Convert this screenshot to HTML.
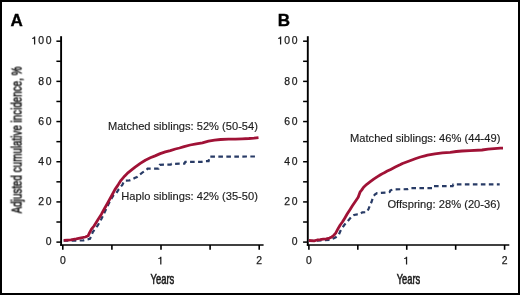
<!DOCTYPE html>
<html><head><meta charset="utf-8"><style>
html,body{margin:0;padding:0;background:#fff;}
body{width:520px;height:295px;overflow:hidden;}
svg{display:block;will-change:transform;}
text{font-family:"Liberation Sans",sans-serif;fill:#1c1c1c;}
.tk{font-size:10.4px;stroke:#1c1c1c;stroke-width:0.25px;}
.tky{font-size:10.4px;letter-spacing:1.9px;stroke:#1c1c1c;stroke-width:0.25px;}
.an{font-size:10.9px;stroke:#1c1c1c;stroke-width:0.15px;}
.cd{font-size:14.4px;stroke:#1c1c1c;stroke-width:0.6px;}
.pl{font-size:17px;font-weight:bold;fill:#000;stroke:#000;stroke-width:0.35px;}
</style></head><body>
<svg width="520" height="295" viewBox="0 0 520 295">
<rect x="1" y="1" width="518" height="293" fill="#fff" stroke="#000" stroke-width="2"/>
<line x1="61.1" y1="36.2" x2="61.1" y2="245.8" stroke="#000" stroke-width="1.9"/>
<line x1="60.15" y1="245" x2="263.6" y2="245" stroke="#000" stroke-width="1.6"/>
<line x1="56.4" y1="242.10" x2="61.1" y2="242.10" stroke="#000" stroke-width="1.5"/>
<line x1="56.4" y1="222.01" x2="61.1" y2="222.01" stroke="#000" stroke-width="1.5"/>
<line x1="56.4" y1="201.92" x2="61.1" y2="201.92" stroke="#000" stroke-width="1.5"/>
<line x1="56.4" y1="181.83" x2="61.1" y2="181.83" stroke="#000" stroke-width="1.5"/>
<line x1="56.4" y1="161.74" x2="61.1" y2="161.74" stroke="#000" stroke-width="1.5"/>
<line x1="56.4" y1="141.65" x2="61.1" y2="141.65" stroke="#000" stroke-width="1.5"/>
<line x1="56.4" y1="121.56" x2="61.1" y2="121.56" stroke="#000" stroke-width="1.5"/>
<line x1="56.4" y1="101.47" x2="61.1" y2="101.47" stroke="#000" stroke-width="1.5"/>
<line x1="56.4" y1="81.38" x2="61.1" y2="81.38" stroke="#000" stroke-width="1.5"/>
<line x1="56.4" y1="61.29" x2="61.1" y2="61.29" stroke="#000" stroke-width="1.5"/>
<line x1="56.4" y1="41.20" x2="61.1" y2="41.20" stroke="#000" stroke-width="1.5"/>
<line x1="62.80" y1="245" x2="62.80" y2="249.8" stroke="#000" stroke-width="1.6"/>
<line x1="111.90" y1="245" x2="111.90" y2="249.8" stroke="#000" stroke-width="1.6"/>
<line x1="161.00" y1="245" x2="161.00" y2="249.8" stroke="#000" stroke-width="1.6"/>
<line x1="210.10" y1="245" x2="210.10" y2="249.8" stroke="#000" stroke-width="1.6"/>
<line x1="259.20" y1="245" x2="259.20" y2="249.8" stroke="#000" stroke-width="1.6"/>
<text x="53.50" y="245.30" text-anchor="end" class="tky">0</text>
<text x="53.50" y="205.12" text-anchor="end" class="tky">20</text>
<text x="53.50" y="164.94" text-anchor="end" class="tky">40</text>
<text x="53.50" y="124.76" text-anchor="end" class="tky">60</text>
<text x="53.50" y="84.58" text-anchor="end" class="tky">80</text>
<text x="53.50" y="44.40" text-anchor="end" class="tky">00</text>
<path d="M35.23,36.60 L35.23,44.60 L33.98,44.60 L33.98,38.90 C33.38,38.60 32.60,38.90 32.10,39.00 L32.10,38.00 C33.30,37.90 33.77,37.20 34.08,36.60 Z" fill="#1c1c1c"/>
<text x="62.80" y="264.4" text-anchor="middle" class="tk">0</text>
<path d="M161.43,256.70 L161.43,264.60 L160.18,264.60 L160.18,259.00 C159.58,258.70 158.80,259.00 158.30,259.10 L158.30,258.10 C159.50,258.00 159.98,257.30 160.28,256.70 Z" fill="#1c1c1c"/>
<text x="259.20" y="264.4" text-anchor="middle" class="tk">2</text>
<line x1="307.8" y1="36.2" x2="307.8" y2="245.8" stroke="#000" stroke-width="1.9"/>
<line x1="306.85" y1="245" x2="509.3" y2="245" stroke="#000" stroke-width="1.6"/>
<line x1="303.1" y1="242.10" x2="307.8" y2="242.10" stroke="#000" stroke-width="1.5"/>
<line x1="303.1" y1="222.01" x2="307.8" y2="222.01" stroke="#000" stroke-width="1.5"/>
<line x1="303.1" y1="201.92" x2="307.8" y2="201.92" stroke="#000" stroke-width="1.5"/>
<line x1="303.1" y1="181.83" x2="307.8" y2="181.83" stroke="#000" stroke-width="1.5"/>
<line x1="303.1" y1="161.74" x2="307.8" y2="161.74" stroke="#000" stroke-width="1.5"/>
<line x1="303.1" y1="141.65" x2="307.8" y2="141.65" stroke="#000" stroke-width="1.5"/>
<line x1="303.1" y1="121.56" x2="307.8" y2="121.56" stroke="#000" stroke-width="1.5"/>
<line x1="303.1" y1="101.47" x2="307.8" y2="101.47" stroke="#000" stroke-width="1.5"/>
<line x1="303.1" y1="81.38" x2="307.8" y2="81.38" stroke="#000" stroke-width="1.5"/>
<line x1="303.1" y1="61.29" x2="307.8" y2="61.29" stroke="#000" stroke-width="1.5"/>
<line x1="303.1" y1="41.20" x2="307.8" y2="41.20" stroke="#000" stroke-width="1.5"/>
<line x1="308.90" y1="245" x2="308.90" y2="249.8" stroke="#000" stroke-width="1.6"/>
<line x1="357.82" y1="245" x2="357.82" y2="249.8" stroke="#000" stroke-width="1.6"/>
<line x1="406.75" y1="245" x2="406.75" y2="249.8" stroke="#000" stroke-width="1.6"/>
<line x1="455.67" y1="245" x2="455.67" y2="249.8" stroke="#000" stroke-width="1.6"/>
<line x1="504.60" y1="245" x2="504.60" y2="249.8" stroke="#000" stroke-width="1.6"/>
<text x="299.50" y="245.30" text-anchor="end" class="tky">0</text>
<text x="299.50" y="205.12" text-anchor="end" class="tky">20</text>
<text x="299.50" y="164.94" text-anchor="end" class="tky">40</text>
<text x="299.50" y="124.76" text-anchor="end" class="tky">60</text>
<text x="299.50" y="84.58" text-anchor="end" class="tky">80</text>
<text x="299.50" y="44.40" text-anchor="end" class="tky">00</text>
<path d="M281.23,36.60 L281.23,44.60 L279.98,44.60 L279.98,38.90 C279.38,38.60 278.60,38.90 278.10,39.00 L278.10,38.00 C279.30,37.90 279.78,37.20 280.08,36.60 Z" fill="#1c1c1c"/>
<text x="308.90" y="264.4" text-anchor="middle" class="tk">0</text>
<path d="M407.18,256.70 L407.18,264.60 L405.93,264.60 L405.93,259.00 C405.32,258.70 404.55,259.00 404.05,259.10 L404.05,258.10 C405.25,258.00 405.73,257.30 406.03,256.70 Z" fill="#1c1c1c"/>
<text x="504.60" y="264.4" text-anchor="middle" class="tk">2</text>
<polyline points="63.7,240.7 72.7,240.6 79.9,240.5 83.5,240.3 87.2,239.4 90.0,238.9 91.3,235.5 92.8,232.0 95.0,229.0 97.8,225.3 100.5,220.8 103.3,215.0 105.8,209.8 108.3,204.6 110.8,199.6 113.7,195.0 116.4,193.0 118.7,189.3 120.6,187.0 122.5,184.6 123.6,182.0 124.6,180.7 129.5,180.4 131.5,179.7 134.6,178.1 137.0,177.0 139.7,174.6 142.3,172.6 146.5,170.0 147.6,168.6 158.5,168.6 159.8,164.8 170.8,164.6 171.6,163.9 184.4,163.6 185.3,161.9 201.5,161.9 203.5,161.2 208.6,161.1 209.6,156.6 257.2,156.5" fill="none" stroke="#283b66" stroke-width="2.2" stroke-dasharray="4.6 3.4"/>
<polyline points="63.7,240.4 70.8,239.9 76.3,238.9 81.1,237.9 85.4,237.0 88.2,235.7 89.6,232.7 91.5,229.2 94.0,226.0 95.9,223.0 97.9,219.8 101.3,214.4 103.7,210.0 106.4,205.2 108.1,202.1 111.5,196.0 114.9,189.6 118.3,184.6 121.0,180.3 124.8,175.9 128.2,172.6 131.6,169.9 135.1,167.2 140.3,163.4 145.3,160.2 150.3,157.8 155.1,155.9 160.2,153.6 165.3,151.9 170.3,150.6 175.4,149.0 179.5,148.0 184.1,146.6 190.2,145.0 196.3,143.8 202.4,142.8 208.5,141.2 214.6,140.2 220.5,139.5 228.6,139.2 235.3,139.1 242.1,138.8 248.9,138.5 254.0,138.1 258.5,137.6" fill="none" stroke="#a01236" stroke-width="2.8" stroke-linejoin="round"/>
<polyline points="308.9,241.0 316.0,240.7 330.0,240.0 333.3,238.4 335.8,237.2 338.7,235.0 340.9,229.9 344.3,225.0 348.3,220.5 351.9,216.3 354.0,215.0 357.4,214.3 360.2,214.0 362.3,212.4 366.6,212.2 368.4,209.3 369.6,206.2 371.5,202.0 373.3,196.5 375.1,194.4 377.0,193.2 386.9,192.6 389.6,192.0 390.4,190.4 394.0,189.3 407.5,189.2 409.8,188.2 432.3,188.2 433.0,186.2 452.6,186.2 453.4,184.4 499.7,184.4" fill="none" stroke="#283b66" stroke-width="2.2" stroke-dasharray="4.6 3.4"/>
<polyline points="308.9,240.5 314.1,240.8 317.2,240.0 320.2,239.6 323.3,239.1 326.3,238.9 329.5,238.1 331.8,236.9 333.6,235.5 335.7,233.1 337.9,228.9 340.2,225.0 342.4,222.0 344.6,218.4 347.3,213.8 350.1,209.5 352.4,205.8 354.8,202.3 358.2,197.2 360.0,192.2 361.8,189.9 363.6,187.2 366.8,184.3 370.3,181.7 373.7,179.2 377.1,176.9 380.5,174.8 383.9,172.9 387.3,171.1 390.7,169.4 395.3,167.0 400.0,164.8 402.5,163.5 409.9,160.7 415.9,158.5 420.4,157.0 424.9,155.8 427.5,155.1 434.9,153.9 442.4,152.9 450.2,152.3 456.3,151.5 462.0,151.0 470.0,150.6 482.0,150.0 488.1,149.2 494.2,148.6 500.3,148.2 503.0,148.2" fill="none" stroke="#a01236" stroke-width="2.8" stroke-linejoin="round"/>
<text x="10.4" y="25.7" class="pl">A</text>
<text x="277.7" y="25.7" class="pl">B</text>
<text x="107.9" y="130.2" class="an" textLength="150.0" lengthAdjust="spacingAndGlyphs">Matched siblings: 52% (50-54)</text>
<text x="121.3" y="200.0" class="an" textLength="136.6" lengthAdjust="spacingAndGlyphs">Haplo siblings: 42% (35-50)</text>
<text x="350.0" y="141.7" class="an" textLength="150.4" lengthAdjust="spacingAndGlyphs">Matched siblings: 46% (44-49)</text>
<text x="387.4" y="208.2" class="an" textLength="112.8" lengthAdjust="spacingAndGlyphs">Offspring: 28% (20-36)</text>
<text x="150.5" y="284.4" class="cd" textLength="23.8" lengthAdjust="spacingAndGlyphs">Years</text>
<text x="396.7" y="284.4" class="cd" textLength="23.6" lengthAdjust="spacingAndGlyphs">Years</text>
<text transform="translate(21.6,213.4) rotate(-90)" x="0" y="0" class="cd" textLength="146.7" lengthAdjust="spacingAndGlyphs">Adjusted cumulative incidence, %</text>
</svg>
</body></html>
